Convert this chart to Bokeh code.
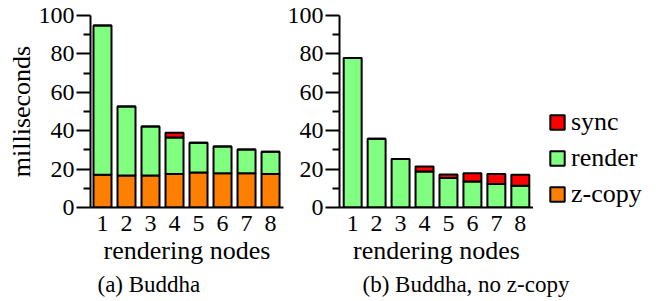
from bokeh.plotting import figure
from bokeh.layouts import row, column
from bokeh.models import Range1d, FixedTicker, Legend, LegendItem, Title, ColumnDataSource
from bokeh.embed import file_html
from bokeh.resources import INLINE

nodes = [1, 2, 3, 4, 5, 6, 7, 8]
tick_labels = ["1", "2", "3", "4", "5", "6", "7", "8"]

# (a) Buddha
a_zcopy = [17.0, 16.7, 16.7, 17.5, 18.2, 17.9, 17.9, 17.5]
a_render = [77.8, 35.9, 25.5, 19.0, 15.5, 13.9, 12.3, 11.5]
a_sync = [0.0, 0.0, 0.0, 2.4, 0.0, 0.0, 0.0, 0.0]

# (b) Buddha, no z-copy
b_zcopy = [0, 0, 0, 0, 0, 0, 0, 0]
b_render = [77.9, 35.8, 25.2, 18.75, 15.3, 13.5, 12.2, 11.3]
b_sync = [0.0, 0.0, 0.0, 2.65, 1.9, 4.4, 5.2, 5.7]

series = ["zcopy", "render", "sync"]
series_labels = ["z-copy", "render", "sync"]
colors = ["#ff8000", "#80ff80", "#ff0000"]
captions = ["(a) Buddha", "(b) Buddha, no z-copy"]

FONT = "Liberation Serif"


def make_fig(zc, rd, sy, fw, left, right, xr):
    p = figure(frame_width=fw, frame_height=192, output_backend="svg", toolbar_location=None,
               x_range=Range1d(*xr), y_range=Range1d(0, 100),
               min_border_left=left, min_border_right=right,
               min_border_top=15, min_border_bottom=0)
    src = ColumnDataSource(dict(x=nodes, zcopy=zc, render=rd, sync=sy))
    rs = p.vbar_stack(series, x="x", width=0.75, source=src, fill_color=colors,
                      line_color="black", line_width=2)
    p.grid.visible = False
    p.outline_line_color = None
    p.background_fill_color = "white"

    ya = p.yaxis[0]
    ya.ticker = FixedTicker(ticks=[0, 20, 40, 60, 80, 100],
                            minor_ticks=[10, 30, 50, 70, 90])
    ya.major_tick_out = 14
    ya.major_tick_in = 0
    ya.minor_tick_out = 7
    ya.minor_tick_in = 0
    ya.axis_line_width = 2
    ya.major_tick_line_width = 2
    ya.minor_tick_line_width = 2
    ya.major_label_text_font = FONT
    ya.major_label_text_font_size = "24px"
    ya.major_label_text_color = "black"
    ya.major_label_standoff = 2

    xa = p.xaxis[0]
    xa.ticker = FixedTicker(ticks=nodes)
    xa.major_label_overrides = {n: t for n, t in zip(nodes, tick_labels)}
    xa.major_tick_line_color = None
    xa.minor_tick_line_color = None
    xa.major_tick_out = 0
    xa.major_tick_in = 0
    xa.axis_line_width = 2
    xa.major_label_text_font = FONT
    xa.major_label_text_font_size = "24px"
    xa.major_label_text_color = "black"
    xa.major_label_standoff = 8
    xa.axis_label = "rendering nodes"
    xa.axis_label_text_font = FONT
    xa.axis_label_text_font_size = "26px"
    xa.axis_label_text_font_style = "normal"
    xa.axis_label_text_color = "black"
    xa.axis_label_standoff = 2
    return p, rs


def caption_fig(text, w, offset):
    c = figure(frame_width=w, frame_height=1, output_backend="svg", toolbar_location=None,
               x_axis_type=None, y_axis_type=None,
               min_border_left=0, min_border_right=0, min_border_top=0, min_border_bottom=0)
    c.grid.visible = False
    c.outline_line_color = None
    t = Title(text=text, text_font=FONT, text_font_size="23px",
              text_font_style="normal", text_color="black", align="left",
              offset=offset, standoff=3)
    c.add_layout(t, "below")
    return c


p1, rs1 = make_fig(a_zcopy, a_render, a_sync, 193, 90, 1, (0.5, 8.54))
p1.yaxis[0].axis_label = "milliseconds"
p1.yaxis[0].axis_label_text_font = FONT
p1.yaxis[0].axis_label_text_font_size = "26px"
p1.yaxis[0].axis_label_text_font_style = "normal"
p1.yaxis[0].axis_label_text_color = "black"
p1.yaxis[0].axis_label_standoff = 0

p2, rs2 = make_fig(b_zcopy, b_render, b_sync, 194, 52, 0, (0.45, 8.55))

# legend panel: a small figure holding hidden copies of the stack for the legend
p3 = figure(frame_width=126, frame_height=220, output_backend="svg", toolbar_location=None,
            x_axis_type=None, y_axis_type=None,
            min_border_left=0, min_border_right=0, min_border_top=15, min_border_bottom=0)
p3.grid.visible = False
p3.outline_line_color = None
src3 = ColumnDataSource(dict(x=nodes, zcopy=b_zcopy, render=b_render, sync=b_sync))
rs3 = p3.vbar_stack(series, x="x", width=0.75, source=src3, fill_color=colors,
                    line_color="black", line_width=2)
for r in rs3:
    r.visible = False

items = [LegendItem(label=series_labels[i], renderers=[rs3[i]]) for i in (2, 1, 0)]
legend = Legend(items=items, location=(15, 26), orientation="vertical",
                glyph_width=18, glyph_height=18, label_height=17, label_standoff=5,
                spacing=6, padding=0, margin=0, border_line_color=None,
                background_fill_alpha=0, label_text_font=FONT,
                label_text_font_size="26px", label_text_color="black",
                inactive_fill_alpha=0)
p3.add_layout(legend, "center")

c1 = caption_fig(captions[0], 284, 97)
c2 = caption_fig(captions[1], 372, 78)

layout = column(row(p1, p2, p3), row(c1, c2))
open("out.html", "w").write(file_html(layout, INLINE))
